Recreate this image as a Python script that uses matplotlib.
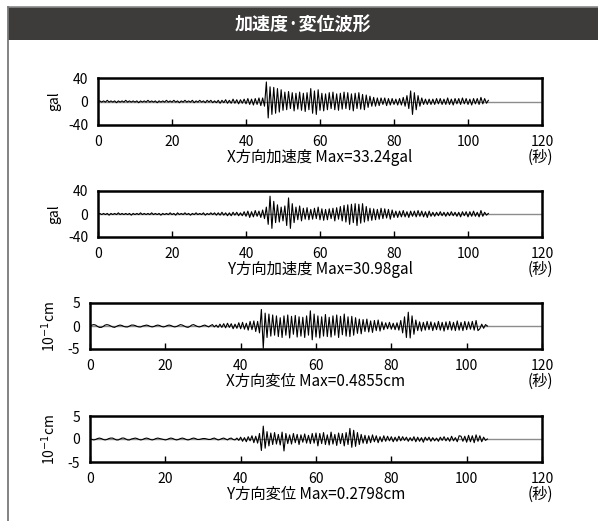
import matplotlib
matplotlib.use("Agg")
import matplotlib.pyplot as plt
import numpy as np
from matplotlib.patches import Rectangle
from matplotlib.lines import Line2D

plt.rcParams['font.family'] = ['Noto Sans CJK JP', 'DejaVu Sans']
plt.rcParams['axes.unicode_minus'] = False

# samples every 0.5 s, 0 .. 105.5 s (signed peaks)
dt = 0.5

acc_x = [
    0, 1, -1, 1, -1, 2, -1, 1, -1, 1, -2, 1, -1, 1, -1, 2, -1, 1, -1, 1,
    -1, 1, -2, 1, -1, 1, -1, 2, -1, 1, -1, 1, -2, 1, -1, 1, -1, 2, -1, 1,
    -1, 2, -1, 1, -2, 1, -1, 2, -1, 1, -1, 2, -2, 1, -1, 2, -1, 1, -2, 2,
    -1, 2, -2, 1, -2, 2, -3, 2, -2, 3, -3, 2, -3, 4, -3, 3, -4, 3, -3, 4,
    -4, 5, -5, 4, -6, 5, -5, 6, -7, 6, -8, 33.24, -28, 25, -22, 24, -20, 22, -18, 20,
    -15, 16, -14, 17, -12, 15, -16, 14, -13, 16, -15, 14, -17, 15, -14, 22, -20, 18, -22, 20,
    -15, 14, -16, 13, -14, 15, -12, 16, -14, 13, -15, 14, -13, 16, -12, 15, -14, 13, -16, 14,
    -12, 15, -13, 12, -14, 11, -10, 9, -8, 7, -8, 6, -7, 6, -5, 6, -7, 5, -6, 5,
    -5, 4, -6, 5, -6, 7, -8, 10, -12, 18, -22, 15, -14, 10, -8, 6, -5, 4, -5, 4,
    -5, 4, -5, 5, -4, 5, -5, 4, -5, 6, -5, 4, -6, 5, -4, 5, -5, 6, -4, 5,
    -5, 4, -6, 5, -4, 5, -5, 7, -4, 5, -3, 2,
]

acc_y = [
    0, 1, -1, 1, -1, 1, -2, 1, -1, 1, -1, 2, -1, 1, -1, 1, -1, 1, -2, 1,
    -1, 1, -1, 2, -1, 1, -1, 1, -1, 2, -1, 1, -1, 1, -2, 1, -1, 1, -1, 2,
    -1, 1, -2, 2, -1, 1, -1, 2, -1, 1, -2, 1, -1, 2, -1, 1, -1, 2, -2, 1,
    -1, 2, -1, 2, -2, 2, -2, 3, -2, 2, -3, 2, -3, 3, -2, 3, -3, 2, -3, 4,
    -4, 5, -6, 4, -5, 6, -4, 5, -6, 7, -8, 12, -18, 30.98, -25, 22, -15, 16, -14, 12,
    -12, 14, -20, 28, -25, 18, -15, 12, -10, 14, -12, 10, -9, 11, -10, 8, -9, 10, -8, 12,
    -10, 9, -11, 8, -10, 9, -8, 10, -12, 11, -9, 13, -12, 15, -14, 16, -18, 17, -15, 18,
    -20, 17, -16, 18, -14, 13, -12, 10, -11, 9, -10, 8, -9, 10, -8, 9, -7, 8, -9, 7,
    -6, 5, -6, 5, -5, 6, -5, 4, -6, 5, -4, 5, -5, 6, -4, 5, -5, 4, -6, 5,
    -4, 3, -4, 3, -3, 4, -3, 3, -4, 3, -3, 4, -3, 3, -4, 3, -5, 4, -3, 4,
    -5, 4, -4, 5, -4, 3, -5, 6, -4, 3, -2, 1,
]

# displacement in 10^-1 cm
disp_x = [
    0, 0.2, 0.3, 0.2, -0.1, -0.3, -0.3, -0.1, 0.2, 0.3, 0.2, 0, -0.2, -0.3, -0.1, 0.1, 0.2, 0.1, -0.1, -0.2,
    -0.2, 0, 0.2, 0.2, 0.1, -0.1, -0.2, -0.2, 0, 0.1, 0.2, 0.1, -0.1, -0.2, -0.1, 0.1, 0.2, 0.1, -0.1, -0.2,
    -0.1, 0.1, 0.2, 0.1, -0.1, -0.2, -0.1, 0.1, 0.3, 0.2, 0, -0.2, -0.3, -0.1, 0.2, 0.3, 0.1, -0.1, -0.2, -0.1,
    0.1, 0.2, 0, -0.2, 0.1, 0.3, -0.2, 0.2, -0.3, 0.4, -0.3, 0.5, -0.4, 0.6, -0.3, 0.5, -0.6, 0.4, -0.5, 0.7,
    -0.6, 0.8, -0.7, 0.6, -0.9, 1.0, -0.8, 1.1, -1.2, 1.0, -1.5, 3.6, -4.855, 2.8, -2.5, 2.6, -2.2, 2.4, -2.0, 2.2,
    -2.3, 1.8, -2.5, 2.2, -2.0, 2.4, -2.6, 2.1, -1.8, 2.3, -2.4, 2.0, -2.2, 1.9, -2.5, 2.2, -2.0, 3.3, -3.0, 2.6,
    -2.4, 2.2, -2.6, 2.0, -2.2, 2.5, -2.3, 1.9, -2.4, 2.2, -2.0, 2.4, -2.5, 2.1, -1.9, 2.6, -2.2, 2.0, -2.3, 2.1,
    -2.0, 1.8, -1.6, 1.5, -1.7, 1.4, -1.2, 1.5, -1.3, 1.1, -1.4, 1.2, -1.0, 1.3, -1.1, 0.9, -0.8, 0.7, -0.6, 0.8,
    -0.7, 0.6, -0.8, 0.7, -0.9, 1.2, -1.5, 2.0, -2.5, 3.0, -2.6, 2.2, -1.8, 1.3, -1.0, 0.9, -1.1, 0.8, -0.9, 1.0,
    -0.8, 0.9, -1.0, 0.7, -0.8, 1.0, -0.9, 0.8, -1.1, 0.9, -0.8, 1.0, -0.9, 0.8, -1.0, 1.1, -0.9, 0.8, -1.0, 1.0,
    -0.8, 0.9, -0.7, 1.0, -0.9, 1.2, -1.0, -0.6, 0.4, -0.5, 0.3, 0,
]

disp_y = [
    0, -0.1, -0.2, -0.1, 0.1, 0.2, 0.1, -0.1, -0.2, -0.1, 0.1, 0.2, 0.2, 0, -0.2, -0.2, 0, 0.2, 0.2, 0,
    -0.2, -0.2, 0, 0.1, 0.2, 0.1, -0.1, -0.2, -0.1, 0.1, 0.2, 0.1, -0.1, -0.2, -0.1, 0.1, 0.2, 0.1, 0, -0.1,
    -0.2, -0.1, 0.1, 0.2, 0.1, -0.1, -0.2, -0.1, 0.1, 0.2, 0.1, -0.1, -0.2, -0.1, 0.1, 0.2, 0.1, -0.1, -0.1, 0,
    0.1, 0.1, 0, -0.1, -0.1, 0.1, 0.2, 0, -0.2, -0.1, 0.1, 0.2, 0, -0.2, 0.1, 0.2, -0.1, -0.2, 0.2, -0.3,
    0.4, -0.5, 0.3, -0.6, 0.5, -0.4, 0.7, -0.8, 0.6, -0.9, 1.2, -2.5, 2.798, -2.0, 1.6, -1.5, 1.3, -1.2, 1.4, -1.1,
    1.0, -1.3, 1.5, -2.6, 1.2, -1.0, 0.9, -1.1, 1.2, -0.8, 1.0, -1.2, 0.9, -0.7, 1.1, -0.9, 0.8, -1.0, 1.2, -0.9,
    1.3, -1.5, 1.2, -1.0, 1.4, -1.2, 0.9, -1.3, 1.5, -1.1, 1.0, -1.4, 1.3, -1.0, 1.2, -1.5, 1.4, -1.2, 2.3, -1.8,
    1.9, -1.6, 1.4, -1.2, 1.0, -0.9, 0.8, -1.0, 0.7, -0.8, 0.9, -0.6, 0.7, -0.8, 0.5, -0.6, 0.7, -0.5, 0.6, -0.4,
    0.5, -0.6, 0.4, -0.5, 0.6, -0.4, 0.5, -0.3, 0.4, -0.5, 0.3, -0.4, 0.5, -0.6, 0.4, -0.5, 0.3, -0.7, 0.4, -0.3,
    0.4, -0.5, 0.3, -0.4, 0.2, -0.5, 0.4, -0.3, 0.5, -0.4, 0.3, -0.5, 0.6, -0.4, 0.3, -0.6, 0.7, 0.6, -0.5, 0.6,
    -0.7, 0.8, -0.6, 0.7, -0.8, 0.9, -0.5, 0.7, -0.6, 0.4, -0.3, 0,
]

series = [acc_x, acc_y, disp_x, disp_y]
titles = ['X方向加速度 Max=33.24gal', 'Y方向加速度 Max=30.98gal',
          'X方向変位 Max=0.4855cm', 'Y方向変位 Max=0.2798cm']
ylabels = ['gal', 'gal', r'10$^{-1}$cm', r'10$^{-1}$cm']
ylims = [40, 40, 5, 5]
xticks = [0, 20, 40, 60, 80, 100, 120]

W, H = 598, 521
fig = plt.figure(figsize=(W / 100, H / 100), dpi=100)

# header bar + panel border
fig.patches.append(Rectangle((8 / W, 1 - 40 / H), 1 - 8 / W, 33 / H,
                             transform=fig.transFigure, facecolor='#3d3c3a',
                             edgecolor='none', zorder=0))
fig.lines.append(Line2D([8 / W, 1], [1 - 7 / H, 1 - 7 / H], transform=fig.transFigure,
                        color='#8a8a8a', lw=1.2))
fig.lines.append(Line2D([8 / W, 8 / W], [0, 1 - 7 / H], transform=fig.transFigure,
                        color='#7a7a7a', lw=1.3))
fig.text(303 / W, 1 - 24 / H, '加速度·変位波形', color='white', fontsize=13,
         fontweight='bold', ha='center', va='center')

# pixel boxes: left, top, bottom
boxes = [(98, 78, 125), (98, 191, 237), (90, 303, 349), (90, 416, 462)]
ylab_x = [54, 54, 49, 49]
right = 542

for i, (vals, ttl, yl, lim) in enumerate(zip(series, titles, ylabels, ylims)):
    l, t, b = boxes[i]
    ax = fig.add_axes([l / W, 1 - b / H, (right - l) / W, (b - t) / H])
    tt = np.arange(len(vals)) * dt
    ax.axhline(0, color='#8c8c8c', lw=1.0, zorder=1)
    ax.plot(tt, vals, color='black', lw=0.8, zorder=2)
    ax.set_xlim(0, 120)
    ax.set_ylim(-lim, lim)
    ax.set_xticks(xticks)
    ax.set_yticks([lim, 0, -lim])
    ax.set_yticklabels([str(lim), '0', str(-lim)])
    ax.tick_params(axis='x', direction='in', length=4, width=1, pad=7, labelsize=10)
    ax.tick_params(axis='y', length=0, pad=7, labelsize=10)
    for sp in ax.spines.values():
        sp.set_linewidth(1.8)
        sp.set_color('black')
    ax.annotate(ttl, xy=(0.5, 0), xycoords='axes fraction', xytext=(0, -32 * 0.72),
                textcoords='offset points', ha='center', va='center', fontsize=11)
    ax.annotate('(秒)', xy=(1.0, 0), xycoords='axes fraction', xytext=(-2 * 0.72, -32 * 0.72),
                textcoords='offset points', ha='center', va='center', fontsize=11)
    fig.text(ylab_x[i] / W, 1 - ((t + b) / 2) / H, yl, rotation=90, ha='center',
             va='center', fontsize=10)

fig.savefig('out.png', dpi=100, facecolor='white')
